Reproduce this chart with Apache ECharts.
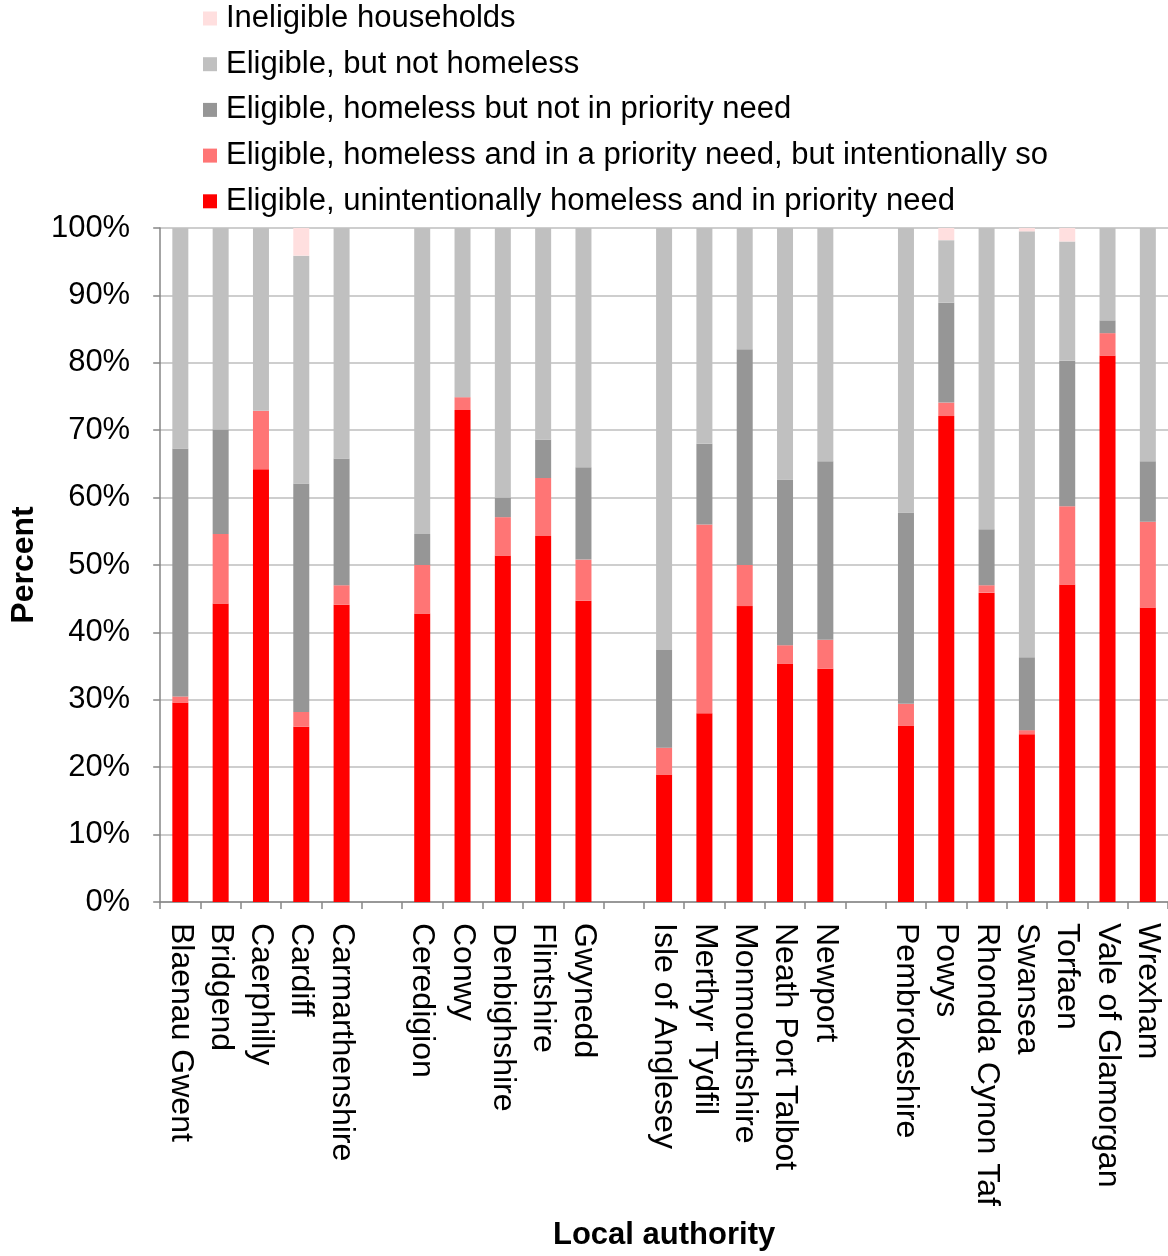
<!DOCTYPE html>
<html>
<head>
<meta charset="utf-8">
<title>Homelessness decisions by local authority</title>
<script src="https://cdn.jsdelivr.net/npm/echarts@6/dist/echarts.min.js"></script>
<style>
  html, body { margin: 0; padding: 0; background: #ffffff; }
  #chart { width: 1168px; height: 1256px; }
</style>
</head>
<body>
<div id="chart"></div>
<script>
// Local authorities, grouped in blocks separated by empty slots
const categories = [
  'Blaenau Gwent', 'Bridgend', 'Caerphilly', 'Cardiff', 'Carmarthenshire',
  ' ',
  'Ceredigion', 'Conwy', 'Denbighshire', 'Flintshire', 'Gwynedd',
  '  ',
  'Isle of Anglesey', 'Merthyr Tydfil', 'Monmouthshire', 'Neath Port Talbot', 'Newport',
  '   ',
  'Pembrokeshire', 'Powys', 'Rhondda Cynon Taf', 'Swansea', 'Torfaen', 'Vale of Glamorgan', 'Wrexham'
];

// Percent of decisions in each outcome (null = empty slot)
const unintentional = [29.6, 44.3, 64.2, 26.0, 44.1, null, 42.8, 73.0, 51.4, 54.3, 44.7, null, 18.9, 28.0, 43.9, 35.4, 34.6, null, 26.2, 72.1, 45.9, 24.9, 47.1, 81.1, 43.7];
const intentional   = [0.9, 10.3, 8.7, 2.2, 2.9, null, 7.2, 1.9, 5.7, 8.6, 6.1, null, 4.0, 28.0, 6.1, 2.7, 4.3, null, 3.2, 2.0, 1.1, 0.6, 11.6, 3.3, 12.7];
const notPriority   = [36.8, 15.5, 0, 33.9, 18.8, null, 4.6, 0, 2.9, 5.7, 13.7, null, 14.5, 12.0, 32.0, 24.6, 26.5, null, 28.4, 14.8, 8.3, 10.8, 21.6, 1.9, 9.0];
const notHomeless   = [32.7, 29.9, 27.1, 33.8, 34.2, null, 45.4, 25.1, 40.0, 31.4, 35.5, null, 62.6, 32.0, 18.0, 37.3, 34.6, null, 42.2, 9.3, 44.7, 63.2, 17.7, 13.7, 34.6];
const ineligible    = [0, 0, 0, 4.1, 0, null, 0, 0, 0, 0, 0, null, 0, 0, 0, 0, 0, null, 0, 1.8, 0, 0.5, 2.0, 0, 0];

const seriesNames = [
  'Eligible, unintentionally homeless and in priority need',
  'Eligible, homeless and in a priority need, but intentionally so',
  'Eligible, homeless but not in priority need',
  'Eligible, but not homeless',
  'Ineligible households'
];
const seriesData = [unintentional, intentional, notPriority, notHomeless, ineligible];
const seriesColors = ['#ff0000', '#ff7575', '#969696', '#c0c0c0', '#ffdfdf'];

const yTicks = { min: 0, max: 100, interval: 10 };

const FONT = "'Liberation Sans', Arial, sans-serif";
const AXIS_GREY = '#868686';

const chart = echarts.init(document.getElementById('chart'), null, { renderer: 'canvas' });

chart.setOption({
  animation: false,
  backgroundColor: '#ffffff',
  textStyle: { fontFamily: FONT },
  legend: {
    orient: 'vertical',
    left: 203,
    top: 3,
    padding: 0,
    itemWidth: 14,
    itemHeight: 14,
    itemGap: 14.7,
    icon: 'rect',
    selectedMode: false,
    data: seriesNames.slice().reverse(),
    textStyle: {
      fontFamily: FONT,
      fontSize: 31,
      lineHeight: 31,
      color: '#000000',
      padding: [0, 0, 0, 4]
    }
  },
  grid: {
    left: 155,
    top: 228,
    width: 1019.5,
    height: 677,
    containLabel: false
  },
  xAxis: {
    type: 'category',
    data: categories,
    name: 'Local authority',
    nameLocation: 'middle',
    nameGap: 318,
    nameTextStyle: { fontFamily: FONT, fontSize: 31, fontWeight: 'bold', color: '#000000' },
    axisLine: { lineStyle: { color: AXIS_GREY, width: 1.5 } },
    axisTick: { show: true, length: 7, lineStyle: { color: AXIS_GREY, width: 1.5 } },
    axisLabel: {
      interval: 0,
      rotate: -90,
      margin: 21,
      fontFamily: FONT,
      fontSize: 32,
      color: '#000000'
    },
    splitLine: { show: false }
  },
  yAxis: {
    type: 'value',
    min: yTicks.min,
    max: yTicks.max,
    interval: yTicks.interval,
    name: 'Percent',
    nameLocation: 'middle',
    nameGap: 119,
    nameRotate: 90,
    nameTextStyle: { fontFamily: FONT, fontSize: 32, fontWeight: 'bold', color: '#000000' },
    axisLine: { show: true, lineStyle: { color: AXIS_GREY, width: 1.5 } },
    axisTick: { show: true, length: 7, lineStyle: { color: AXIS_GREY, width: 1.5 } },
    axisLabel: {
      formatter: '{value}%',
      margin: 30,
      fontFamily: FONT,
      fontSize: 31,
      color: '#000000'
    },
    splitLine: { show: true, lineStyle: { color: '#bebebe', width: 1.5 } }
  },
  series: seriesNames.map((name, i) => ({
    name: name,
    type: 'bar',
    stack: 'share',
    barWidth: 16,
    itemStyle: { color: seriesColors[i] },
    emphasis: { disabled: true },
    data: seriesData[i]
  }))
});
</script>
</body>
</html>
